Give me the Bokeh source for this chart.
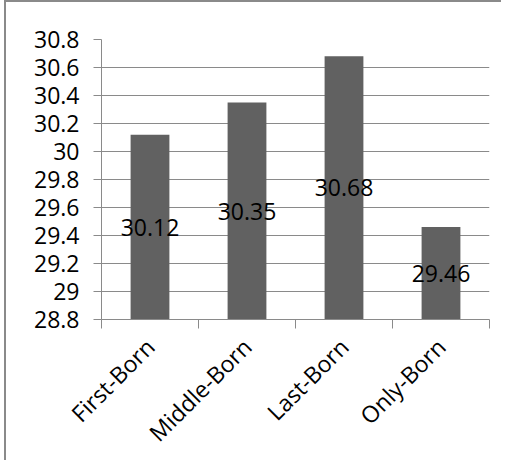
import numpy as np
from bokeh.plotting import figure
from bokeh.models import Range1d, FixedTicker
from bokeh.core.properties import value
from bokeh.embed import file_html
from bokeh.resources import INLINE

categories = ["First-Born", "Middle-Born", "Last-Born", "Only-Born"]
values = [30.12, 30.35, 30.68, 29.46]
y_ticks = [28.8, 29.0, 29.2, 29.4, 29.6, 29.8, 30.0, 30.2, 30.4, 30.6, 30.8]
y_tick_labels = ["28.8", "29", "29.2", "29.4", "29.6", "29.8", "30", "30.2", "30.4", "30.6", "30.8"]
y_min, y_max = 28.8, 30.8

FONT = "Open Sans"
GRID = "#8a8a8a"
BAR = "#616161"

xs = np.arange(len(categories)) + 0.5
bounds = list(np.arange(len(categories) + 1).astype(float))

p = figure(width=497, height=460, output_backend="svg", toolbar_location=None,
           x_range=Range1d(0, len(categories)), y_range=Range1d(y_min, y_max),
           min_border_left=95, min_border_right=14, min_border_top=37, min_border_bottom=143)
p.outline_line_color = None
p.background_fill_color = "white"
p.border_fill_color = "white"
p.styles = {"border-left": "2px solid #8a8a8a", "border-top": "2px solid #8a8a8a",
            "margin-left": "4px", "margin-top": "0px"}

p.vbar(x=xs, top=values, bottom=y_min, width=0.4, fill_color=BAR, line_color=None)

mid = [(y_min + v) / 2 for v in values]
p.text(x=xs, y=mid, text=[f"{v:.2f}" for v in values], text_font=value(FONT),
       text_font_size="23px", text_align="center", text_baseline="middle", text_color="black")

# y axis
p.yaxis.ticker = FixedTicker(ticks=y_ticks)
p.yaxis.major_label_overrides = {t: l for t, l in zip(y_ticks, y_tick_labels)}
p.yaxis.major_label_text_font = FONT
p.yaxis.major_label_text_font_size = "23px"
p.yaxis.major_label_text_color = "black"
p.yaxis.axis_line_color = GRID
p.yaxis.major_tick_line_color = GRID
p.yaxis.major_tick_out = 8
p.yaxis.major_tick_in = 0
p.yaxis.minor_tick_line_color = None
p.yaxis.major_label_standoff = 14

# x axis
p.xaxis.ticker = FixedTicker(ticks=list(xs), minor_ticks=bounds)
p.xaxis.major_label_overrides = {float(x): c for x, c in zip(xs, categories)}
p.xaxis.major_label_orientation = np.pi / 4
p.xaxis.major_label_text_font = FONT
p.xaxis.major_label_text_font_size = "23px"
p.xaxis.major_label_text_color = "black"
p.xaxis.axis_line_color = GRID
p.xaxis.major_tick_line_color = None
p.xaxis.minor_tick_line_color = GRID
p.xaxis.minor_tick_out = 9
p.xaxis.minor_tick_in = 0
p.xaxis.major_label_standoff = 14

p.xgrid.visible = False
p.ygrid.grid_line_color = GRID
p.ygrid.grid_line_width = 1

open("out.html", "w").write(file_html(p, INLINE))
